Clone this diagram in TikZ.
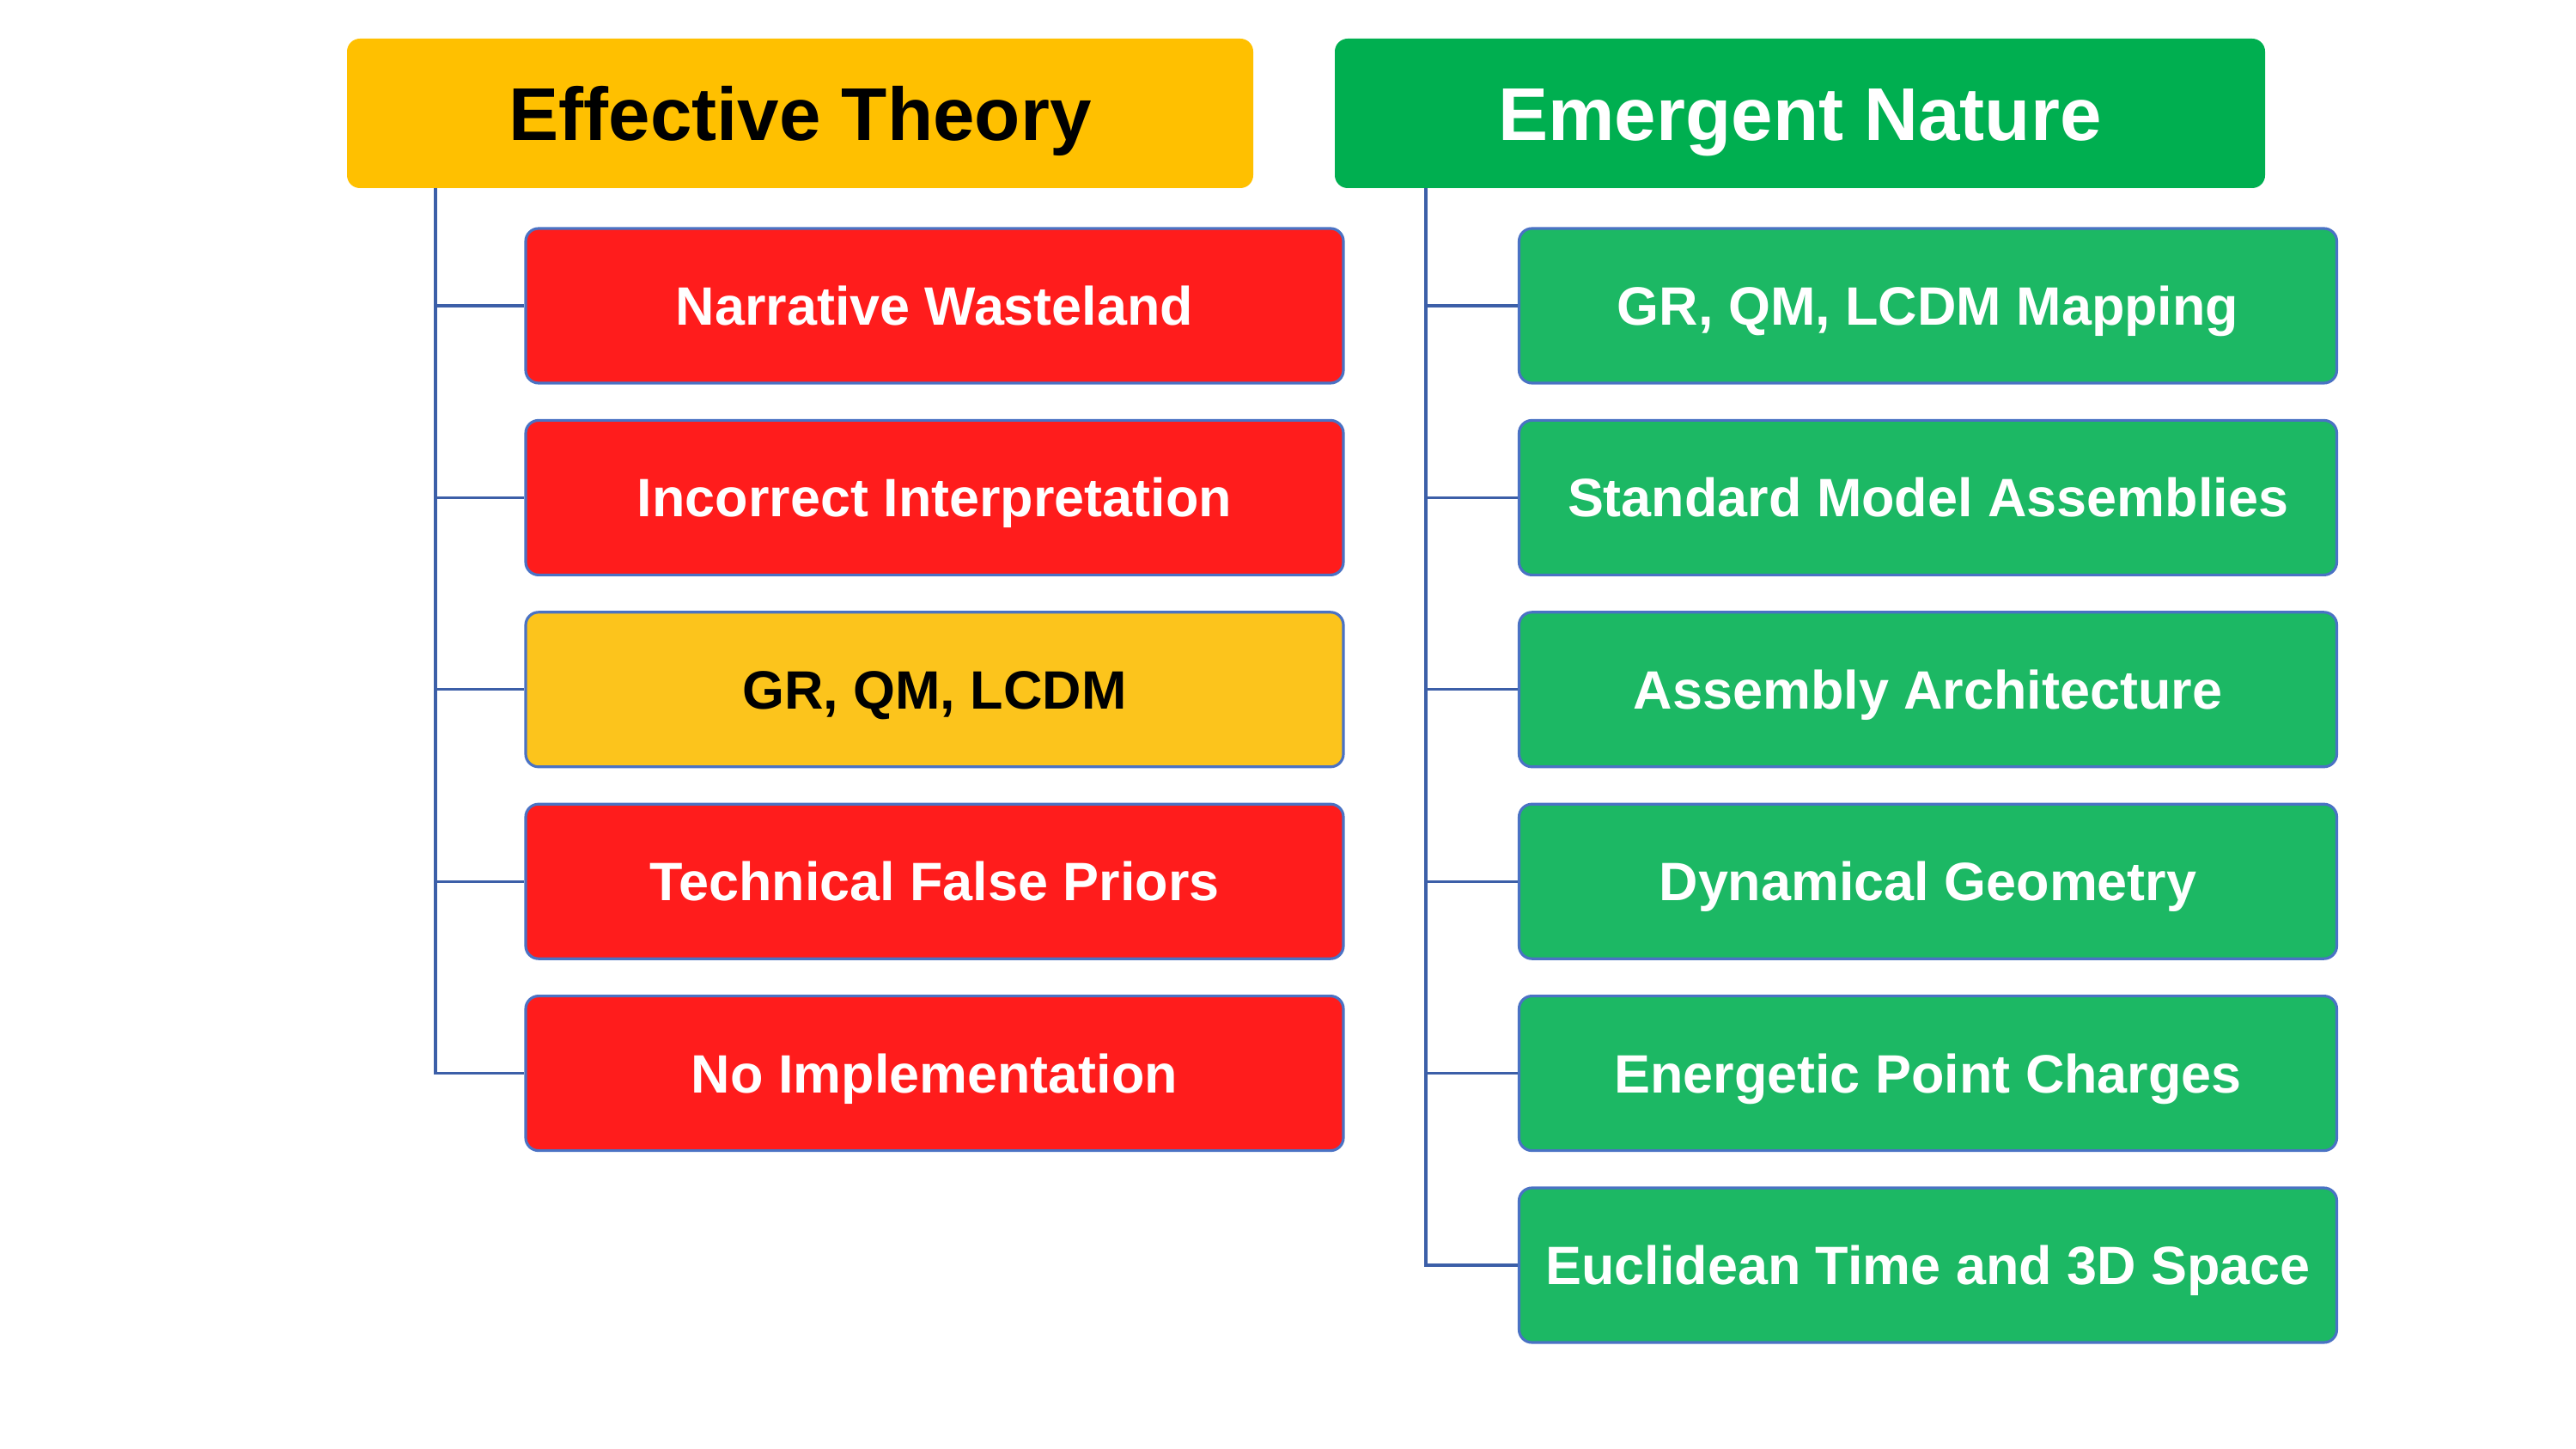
\documentclass[tikz,border=0pt]{standalone}
\usepackage{fontspec}
\setmainfont{Liberation Sans}
\begin{document}
\begin{tikzpicture}[x=1cm,y=1cm,
  header/.style={rounded corners=0.15cm, minimum height=1.74cm, font=\fontsize{24.8}{30}\selectfont\bfseries, inner sep=0pt, text height=17.8pt, text depth=0pt},
  item/.style={rounded corners=0.15cm, draw=boxline, line width=0.9pt, minimum width=9.52cm, minimum height=1.80cm, font=\fontsize{17.9}{22}\selectfont\bfseries, inner sep=0pt, text height=12.8pt, text depth=0pt},
  bad/.style={item, fill=badred, text=white},
  known/.style={item, fill=knownyellow, text=black},
  good/.style={item, fill=goodgreen, text=white},
  link/.style={draw=linkblue, line width=0.9pt}
]
\definecolor{gold}{HTML}{FFC000}
\definecolor{emerald}{HTML}{00AF50}
\definecolor{badred}{HTML}{FF1C1C}
\definecolor{knownyellow}{HTML}{FCC41C}
\definecolor{goodgreen}{HTML}{1CB864}
\definecolor{boxline}{HTML}{4A72C4}
\definecolor{linkblue}{HTML}{3C5FA8}

\useasboundingbox (0,0) rectangle (29.99,-16.87);

% column headers
\node[header, fill=gold, text=black, minimum width=10.55cm] (effective) at (9.315,-1.32) {Effective Theory};
\node[header, fill=emerald, text=white, minimum width=10.83cm] (emergent) at (20.955,-1.32) {Emergent Nature};

% left column
\node[bad]   (l1) at (10.88,-3.560) {Narrative Wasteland};
\node[bad]   (l2) at (10.88,-5.794) {Incorrect Interpretation};
\node[known] (l3) at (10.88,-8.028) {GR, QM, LCDM};
\node[bad]   (l4) at (10.88,-10.262) {Technical False Priors};
\node[bad]   (l5) at (10.88,-12.496) {No Implementation};

% right column
\node[good] (r1) at (22.445,-3.560) {GR, QM, LCDM Mapping};
\node[good] (r2) at (22.445,-5.794) {Standard Model Assemblies};
\node[good] (r3) at (22.445,-8.028) {Assembly Architecture};
\node[good] (r4) at (22.445,-10.262) {Dynamical Geometry};
\node[good] (r5) at (22.445,-12.496) {Energetic Point Charges};
\node[good] (r6) at (22.445,-14.730) {Euclidean Time and 3D Space};

% tree trunks below the headers
\coordinate (ltrunk) at (5.07,-2.19);
\coordinate (rtrunk) at (16.60,-2.19);

\draw[link] (ltrunk) |- (l5.west);
\foreach \b in {l1,l2,l3,l4}
  \draw[link] (ltrunk |- \b.west) -- (\b.west);

\draw[link] (rtrunk) |- (r6.west);
\foreach \b in {r1,r2,r3,r4,r5}
  \draw[link] (rtrunk |- \b.west) -- (\b.west);
\end{tikzpicture}
\end{document}
